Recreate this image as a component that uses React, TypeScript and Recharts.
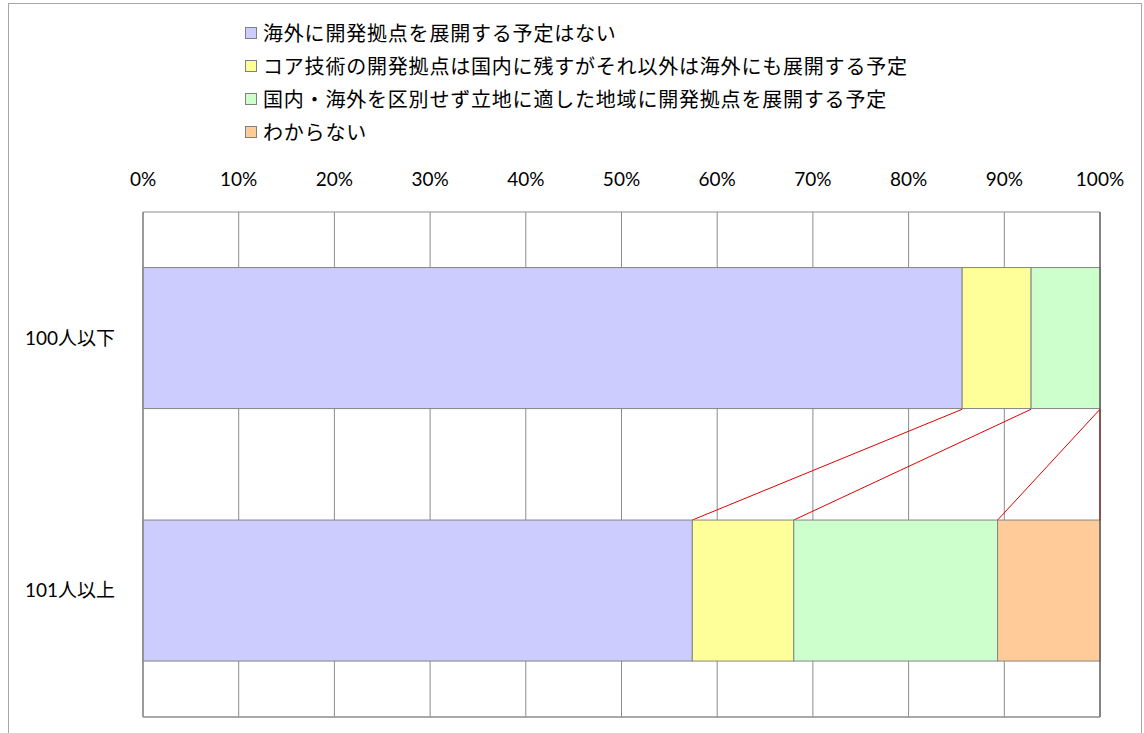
import React from "react";
import {
  Bar,
  BarChart,
  CartesianGrid,
  Legend,
  ReferenceLine,
  XAxis,
  YAxis,
} from "recharts";

const categories = ["100人以下", "101人以上"];
const noPlan = [85.6, 57.4];
const coreDomestic = [7.2, 10.6];
const noDistinction = [7.2, 21.3];
const unknown = [0, 10.7];
const percentTicks = [0, 10, 20, 30, 40, 50, 60, 70, 80, 90, 100];

const series = [
  { key: "noPlan", name: "海外に開発拠点を展開する予定はない", color: "#ccccff", values: noPlan },
  {
    key: "coreDomestic",
    name: "コア技術の開発拠点は国内に残すがそれ以外は海外にも展開する予定",
    color: "#ffff99",
    values: coreDomestic,
  },
  {
    key: "noDistinction",
    name: "国内・海外を区別せず立地に適した地域に開発拠点を展開する予定",
    color: "#ccffcc",
    values: noDistinction,
  },
  { key: "unknown", name: "わからない", color: "#ffcc99", values: unknown },
];

const data = categories.map((name, i) => {
  const row: Record<string, string | number> = { name };
  series.forEach((s) => (row[s.key] = s.values[i]));
  return row;
});

// cumulative right edge of series s in row r
const cumulative = (r: number, s: number) =>
  series.slice(0, s + 1).reduce((acc, item) => acc + item.values[r], 0);

const GAP_PCT = 22;
const tickFont = "Lato, 'Noto Sans CJK JP', sans-serif";

// bar segment with the red series line back to the row above
const makeShape = (s: number) => (props: any) => {
  const { x, y, width, height, index, fill } = props;
  const value = series[s].values[index];
  let link = null;
  if (index > 0 && value > 0) {
    const ppu = width / value;
    const xr = x + width;
    const xUp = xr + (cumulative(index - 1, s) - cumulative(index, s)) * ppu;
    const gap = (height * 2 * GAP_PCT) / (100 - 2 * GAP_PCT);
    link = <line x1={xr} y1={y} x2={xUp} y2={y - gap} stroke="#e00000" strokeWidth={1} />;
  }
  return (
    <g>
      {width > 0 && (
        <rect x={x} y={y} width={width} height={height} fill={fill} stroke="#858585" strokeWidth={1} />
      )}
      {link}
    </g>
  );
};

const LegendBox = () => (
  <div style={{ fontFamily: "'Noto Sans CJK JP', sans-serif" }}>
    {series.map((s) => (
      <div
        key={s.key}
        style={{ display: "flex", alignItems: "center", height: 33, whiteSpace: "nowrap" }}
      >
        <span
          style={{
            display: "inline-block",
            width: 10,
            height: 10,
            background: s.color,
            border: "1px solid #808080",
            marginRight: 6,
          }}
        />
        <span style={{ fontSize: 20, letterSpacing: 0.8, color: "#000" }}>{s.name}</span>
      </div>
    ))}
  </div>
);

export default function App() {
  return (
    <div style={{ position: "absolute", left: 0, top: 0, width: 1144, height: 733, overflow: "hidden", background: "#fff" }}>
      <div
        style={{
          position: "absolute",
          left: 8,
          top: 3,
          width: 1132,
          height: 760,
          border: "1px solid #a6a6a6",
        }}
      />
      <div style={{ position: "absolute", left: 0, top: 0 }}>
        <BarChart
          width={1144}
          height={733}
          data={data}
          layout="vertical"
          barCategoryGap={`${GAP_PCT}%`}
          margin={{ top: 172, right: 44, bottom: 15, left: 0 }}
        >
          <CartesianGrid vertical horizontal={false} stroke="#8c8c8c" />
          <XAxis
            type="number"
            orientation="top"
            domain={[0, 100]}
            ticks={percentTicks}
            tickFormatter={(v) => `${v}%`}
            height={40}
            tickSize={0}
            tickMargin={26}
            axisLine={{ stroke: "#8c8c8c" }}
            tick={{ fill: "#000", fontSize: 19, fontFamily: tickFont }}
            interval={0}
          />
          <XAxis
            xAxisId="bottom"
            type="number"
            orientation="bottom"
            domain={[0, 100]}
            height={1}
            tick={false}
            tickLine={false}
            axisLine={{ stroke: "#8c8c8c", strokeWidth: 1.5 }}
          />
          <YAxis
            type="category"
            dataKey="name"
            width={143}
            tickSize={0}
            tickMargin={28}
            axisLine={{ stroke: "#8c8c8c", strokeWidth: 1.5 }}
            tick={{ fill: "#000", fontSize: 19, fontFamily: tickFont }}
          />
          <ReferenceLine x={100} stroke="#404040" />
          <Legend
            layout="vertical"
            align="center"
            verticalAlign="middle"
            wrapperStyle={{ top: 16, left: 245, width: "auto" }}
            content={() => <LegendBox />}
          />
          {series.map((s, i) => (
            <Bar
              key={s.key}
              dataKey={s.key}
              name={s.name}
              stackId="a"
              fill={s.color}
              shape={makeShape(i)}
              isAnimationActive={false}
            />
          ))}
        </BarChart>
      </div>
    </div>
  );
}
